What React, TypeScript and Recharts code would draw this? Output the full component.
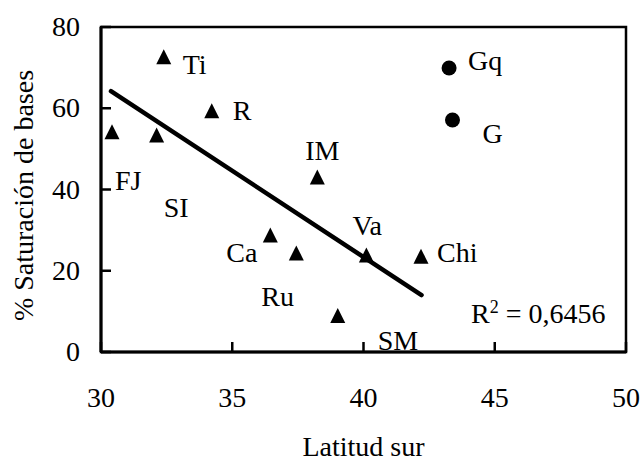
import React from 'react';
import {
  ScatterChart,
  Scatter,
  XAxis,
  YAxis,
  ReferenceArea,
  ReferenceLine,
  Label,
} from 'recharts';

// sites marked with triangles
const triangleNames = ['FJ', 'SI', 'Ti', 'R', 'IM', 'Ca', 'Ru', 'Va', 'Chi', 'SM'];
const triangleLat = [30.42, 32.12, 32.39, 34.22, 38.24, 36.45, 37.44, 40.11, 42.19, 39.02];
const triangleSat = [54.2, 53.4, 72.7, 59.4, 43.1, 28.8, 24.4, 23.9, 23.6, 9.0];

// sites marked with circles
const circleNames = ['Gq', 'G'];
const circleLat = [43.26, 43.39];
const circleSat = [69.9, 57.1];

// fitted line end points
const trendLat = [30.38, 42.21];
const trendSat = [64.2, 14.0];

const xTicks = [30, 35, 40, 45, 50];
const yTicks = [0, 20, 40, 60, 80];
const r2Text = '0,6456';

const triangles = triangleNames.map((name, i) => ({ name, x: triangleLat[i], y: triangleSat[i] }));
const circles = circleNames.map((name, i) => ({ name, x: circleLat[i], y: circleSat[i] }));

const FONT = 'Liberation Serif, Tinos, Times New Roman, Times, Nimbus Roman, DejaVu Serif, serif';

// where each name sits relative to its marker
const labelPos: Record<string, { dx: number; dy: number; anchor?: 'start' | 'end' }> = {
  FJ: { dx: 3, dy: 58 },
  SI: { dx: 7, dy: 82 },
  Ti: { dx: 19, dy: 17 },
  R: { dx: 21, dy: 9 },
  IM: { dx: -12, dy: -17 },
  Ca: { dx: -13, dy: 27, anchor: 'end' },
  Ru: { dx: -35, dy: 53 },
  Va: { dx: -14, dy: -20 },
  Chi: { dx: 16, dy: 6 },
  SM: { dx: 40, dy: 35 },
  Gq: { dx: 19, dy: 2 },
  G: { dx: 30, dy: 23 },
};

function PointLabel({ cx, cy, name }: { cx: number; cy: number; name: string }) {
  const p = labelPos[name] || { dx: 12, dy: 0 };
  return (
    <text
      x={cx + p.dx}
      y={cy + p.dy}
      textAnchor={p.anchor || 'start'}
      style={{ fontFamily: FONT }}
      fontSize={28}
      fill="#000"
    >
      {name}
    </text>
  );
}

function TriangleShape(props: any) {
  const { cx, cy, payload } = props;
  return (
    <g>
      <polygon points={`${cx - 7.5},${cy + 7.5} ${cx + 7.5},${cy + 7.5} ${cx},${cy - 7.5}`} fill="#000" />
      <PointLabel cx={cx} cy={cy} name={payload.name} />
    </g>
  );
}

function CircleShape(props: any) {
  const { cx, cy, payload } = props;
  return (
    <g>
      <circle cx={cx} cy={cy} r={7.5} fill="#000" />
      <PointLabel cx={cx} cy={cy} name={payload.name} />
    </g>
  );
}

function XTick(props: any) {
  const { x, y, payload } = props;
  return (
    <g>
      <line x1={x} y1={y} x2={x} y2={y - 10} stroke="#000" strokeWidth={2.5} />
      <text x={x} y={y + 55} textAnchor="middle" style={{ fontFamily: FONT }} fontSize={28} fill="#000">
        {payload.value}
      </text>
    </g>
  );
}

function YTick(props: any) {
  const { x, y, payload } = props;
  return (
    <g>
      <line x1={x} y1={y} x2={x + 10} y2={y} stroke="#000" strokeWidth={2.5} />
      <text x={x - 21} y={y + 9} textAnchor="end" style={{ fontFamily: FONT }} fontSize={28} fill="#000">
        {payload.value}
      </text>
    </g>
  );
}

export default function App() {
  return (
    <div
      style={{
        position: 'absolute',
        top: 0,
        left: 0,
        width: 644,
        height: 462,
        background: '#fff',
        fontFamily: FONT,
      }}
    >
      <ScatterChart width={644} height={462} margin={{ top: 27, right: 18, bottom: 0, left: 0 }}>
        <XAxis
          type="number"
          dataKey="x"
          domain={[30, 50]}
          ticks={xTicks}
          height={110}
          tickSize={0}
          tickMargin={0}
          tickLine={false}
          tick={<XTick />}
          axisLine={{ stroke: '#000', strokeWidth: 3 }}
          allowDataOverflow
        >
          <Label
            value="Latitud sur"
            position="insideBottom"
            offset={6}
            style={{ fontFamily: FONT }}
            fontSize={28}
            fill="#000"
          />
        </XAxis>
        <YAxis
          type="number"
          dataKey="y"
          domain={[0, 80]}
          ticks={yTicks}
          width={101}
          tickSize={0}
          tickMargin={0}
          tickLine={false}
          tick={<YTick />}
          axisLine={{ stroke: '#000', strokeWidth: 3 }}
          allowDataOverflow
        >
          <Label
            value="% Saturación de bases"
            angle={-90}
            position="center"
            dx={-27}
            dy={6}
            style={{ fontFamily: FONT }}
            fontSize={28}
            fill="#000"
          />
        </YAxis>
        <ReferenceArea
          x1={30}
          x2={50}
          y1={0}
          y2={80}
          fill="none"
          fillOpacity={0}
          stroke="#000"
          strokeWidth={2.5}
        />
        <ReferenceLine
          segment={[
            { x: trendLat[0], y: trendSat[0] },
            { x: trendLat[1], y: trendSat[1] },
          ]}
          stroke="#000"
          strokeWidth={4.5}
          strokeLinecap="round"
        />
        <Scatter data={triangles} shape={<TriangleShape />} isAnimationActive={false} />
        <Scatter data={circles} shape={<CircleShape />} isAnimationActive={false} />
      </ScatterChart>
      <div
        style={{
          position: 'absolute',
          left: 471,
          top: 296,
          fontFamily: FONT,
          fontSize: 28,
          lineHeight: '36px',
          color: '#000',
          whiteSpace: 'nowrap',
        }}
      >
        R<sup style={{ fontSize: 18, verticalAlign: 'super', lineHeight: 0 }}>2</sup> = {r2Text}
      </div>
    </div>
  );
}
